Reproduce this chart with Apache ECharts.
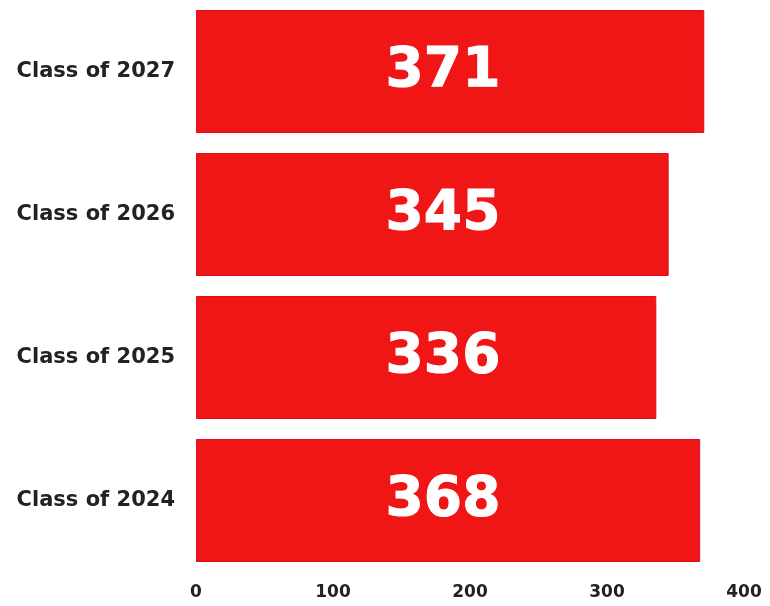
<!DOCTYPE html>
<html lang="en">
<head>
    <meta charset="UTF-8" />
    <title>Class sizes</title>
    <style>
        body {
            margin: 0;
            padding: 0;
            background: #fff;
        }
        .chart {
            width: 770px;
            height: 606px;
        }
    </style>
</head>
<body>
<div class="chart"></div>
<script src="https://cdn.jsdelivr.net/npm/echarts@6/dist/echarts.min.js"></script>
<script>
    // data, bottom to top
    const classes = ['Class of 2024', 'Class of 2025', 'Class of 2026', 'Class of 2027'];
    const students = [368, 336, 345, 371];
    const ticks = [0, 100, 200, 300, 400];

    const chart = echarts.init(document.querySelector('.chart'));
    chart.setOption({
        animation: false,
        grid: { left: 196, right: 26, top: 0, bottom: 34 },
        xAxis: {
            type: 'value',
            min: ticks[0],
            max: ticks[ticks.length - 1],
            interval: 100,
            splitLine: { show: false },
            axisLine: { show: false },
            axisTick: { show: false },
            axisLabel: {
                margin: 12,
                color: '#222',
                fontFamily: 'DejaVu Sans',
                fontWeight: 'bold',
                fontSize: 17
            }
        },
        yAxis: {
            type: 'category',
            data: classes,
            axisLine: { show: false },
            axisTick: { show: false },
            axisLabel: {
                margin: 21,
                color: '#222',
                fontFamily: 'DejaVu Sans',
                fontWeight: 'bold',
                fontSize: 21
            }
        },
        series: [{
            type: 'bar',
            data: students,
            barCategoryGap: '14%',
            itemStyle: {
                color: '#f01616',
                borderColor: '#dc1020',
                borderWidth: 1
            },
            label: {
                show: true,
                position: [247, '50%'],
                align: 'center',
                verticalAlign: 'middle',
                color: '#fff',
                fontFamily: 'DejaVu Sans',
                fontWeight: 'bold',
                fontSize: 55,
                textBorderColor: '#fff',
                textBorderWidth: 1
            }
        }]
    });
</script>
</body>
</html>
